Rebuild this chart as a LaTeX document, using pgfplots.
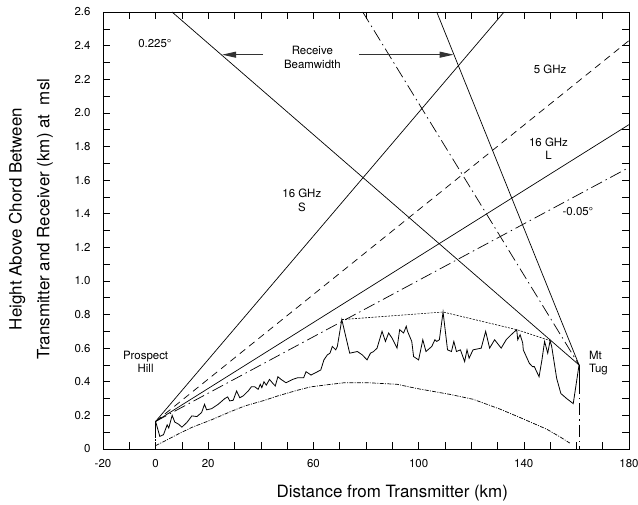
\documentclass[border=0pt]{standalone}
\usepackage{fontspec}
\setmainfont{TeX Gyre Heros}
\usepackage{pgfplots}
\pgfplotsset{compat=1.18}
\usetikzlibrary{arrows.meta}

\begin{document}
\begin{tikzpicture}
\begin{axis}[
  scale only axis, width=526bp, height=437bp,
  xmin=-20, xmax=180, ymin=0, ymax=2.6,
  xtick={-20,-10,0,10,20,30,40,50,60,70,80,90,100,110,120,130,140,150,160,170,180},
  xticklabels={-20,,0,,20,,,,60,,,,100,,,,140,,,,180},
  ytick={0,0.1,0.2,0.3,0.4,0.5,0.6,0.7,0.8,0.9,1.0,1.1,1.2,1.3,1.4,1.5,1.6,1.7,1.8,1.9,2.0,2.1,2.2,2.3,2.4,2.5,2.6},
  yticklabels={0,,0.2,,0.4,,0.6,,0.8,,1.0,,1.2,,1.4,,1.6,,1.8,,2.0,,2.2,,2.4,,2.6},
  tick align=inside, major tick length=7bp,
  xtick pos=both, ytick pos=both,
  xticklabel pos=bottom, yticklabel pos=left,
  tick style={black, line width=0.6bp},
  axis line style={line width=0.8bp},
  tick label style={font=\fontsize{11.5}{13}\selectfont},
  /pgf/number format/assume math mode=true,
  xticklabel style={yshift=-7bp},
  yticklabel style={xshift=-9bp},
  xlabel={Distance from Transmitter (km)},
  ylabel={Height Above Chord Between\\Transmitter and Receiver (km) at~~msl},
  every axis x label/.style={at={(axis description cs:0.55,-0.1007)},anchor=center,font=\fontsize{17}{21}\selectfont},
  every axis y label/.style={at={(axis description cs:-0.137,0.526)},anchor=center,rotate=90,align=center,font=\fontsize{17}{28}\selectfont},
]
% beams from Prospect Hill
\addplot[black, line width=0.7bp] coordinates {(0,0.164) (132.5,2.6)};
\addplot[black, line width=0.7bp, dash pattern=on 7bp off 5bp] coordinates {(0,0.164) (180,2.43)};
\addplot[black, line width=0.7bp] coordinates {(0,0.164) (180,1.93)};
\addplot[black, line width=0.7bp, dash pattern=on 12bp off 4bp on 1.5bp off 4bp] coordinates {(0,0.164) (180,1.675)};
% beams to Mt Tug
\addplot[black, line width=0.7bp] coordinates {(6.25,2.6) (161,0.5)};
\addplot[black, line width=0.7bp, dash pattern=on 12bp off 4bp on 1.5bp off 4bp] coordinates {(78.75,2.6) (161,0.5)};
\addplot[black, line width=0.7bp] coordinates {(106.9,2.6) (161,0.5)};
% terrain profile
\addplot[black, line width=0.8bp] coordinates {
(0,0.164) (1.6,0.075) (3.0,0.085) (4.4,0.144) (5.0,0.125) (6.3,0.20) (7.3,0.16) (8.7,0.148)
(10,0.13) (11.9,0.158) (13.8,0.197) (15.7,0.193) (17.5,0.217) (18.6,0.266) (19.4,0.233)
(21.3,0.24) (23.8,0.266) (26.3,0.30) (27.4,0.31) (28.2,0.286) (29.5,0.29) (30.8,0.345)
(32,0.305) (33.3,0.316) (35.2,0.345) (36.4,0.37) (37.7,0.37) (39,0.355) (39.8,0.385)
(40.4,0.365) (41.2,0.40) (42.1,0.38) (43.3,0.414) (44.6,0.39) (45.5,0.375) (46.5,0.43)
(47.7,0.414) (49.6,0.394) (52.1,0.414) (54,0.424) (56.3,0.424) (57.2,0.46) (59.1,0.44)
(62.8,0.47) (64,0.53) (65.3,0.56) (66.3,0.57) (67.2,0.61) (68.5,0.59) (69.1,0.61)
(70.8,0.77) (73.8,0.57) (76.7,0.58) (78.6,0.56) (80.4,0.53) (81.7,0.57) (82.9,0.58)
(84.2,0.60) (86.1,0.70) (87.4,0.64) (88.6,0.69) (89.9,0.66) (91.8,0.60) (92.8,0.71)
(94.3,0.69) (95.3,0.73) (95.8,0.70) (97.4,0.64) (98.1,0.55) (100,0.53) (101.6,0.65)
(102.8,0.58) (105,0.61) (106.2,0.65) (106.9,0.64) (107.9,0.65) (109.3,0.815) (111,0.59)
(112.5,0.58) (113.4,0.64) (114.4,0.58) (115.9,0.59) (117.5,0.52) (118.4,0.59) (119.2,0.54)
(120.7,0.59) (123.8,0.60) (125.5,0.70) (127,0.60) (128.9,0.65) (131.4,0.60) (133.3,0.65)
(135.2,0.68) (137.3,0.71) (137.7,0.65) (138.6,0.68) (139.6,0.63) (139.8,0.59) (142.1,0.51)
(143.3,0.49) (144,0.49) (145.8,0.43) (146.9,0.53) (147.9,0.64) (149.1,0.57) (150,0.645)
(150.6,0.61) (152.5,0.42) (154.1,0.33) (156.3,0.30) (158.8,0.27) (161,0.50)
};
\addplot[black, line width=0.8bp] coordinates {(0,0.164) (0,0.075)};
\addplot[black, line width=0.6bp, dash pattern=on 1.5bp off 1.5bp] coordinates {(0,0.075) (0,0)};
\addplot[black, line width=0.8bp] coordinates {(161,0.5) (161,0.40)};
\addplot[black, line width=0.7bp, dash pattern=on 12bp off 4bp on 1.5bp off 4bp] coordinates {(161,0.40) (161,0)};
% upper envelope
\addplot[black, line width=0.6bp, dash pattern=on 2bp off 1.3bp] coordinates {(70.8,0.77) (109.3,0.815) (137.3,0.71) (150,0.645)};
% lower curve
\addplot[black, line width=0.7bp, dash pattern=on 4bp off 1.3bp on 1bp off 1.3bp] coordinates {
(0,0.02) (3.8,0.05) (8.7,0.09) (14,0.13) (21.3,0.174) (28.9,0.225) (33.9,0.256) (41.5,0.29)
(46.5,0.316) (54,0.35) (59.1,0.37) (66.7,0.385) (71.6,0.394) (81,0.394) (91.8,0.385)
(99.3,0.36) (111.9,0.325) (120.7,0.296) (131,0.237) (138.6,0.187) (148.7,0.118) (154,0.07) (157.5,0.035)
};
% arrows
\addplot[black!80, line width=0.9bp, -{Triangle[length=14bp,width=6bp]}] coordinates {(40.9,2.346) (25.3,2.346)};
\addplot[black!80, line width=0.9bp, -{Triangle[length=14bp,width=6bp]}] coordinates {(77.5,2.346) (113.3,2.346)};
% annotations
\begin{scope}[every node/.style={font=\fontsize{11.5}{13.5}\selectfont, align=center}]
\node at (axis cs:-0.25,2.415) {0.225°};
\node at (axis cs:59.6,2.33) {Receive\\Beamwidth};
\node at (axis cs:55.6,1.48) {16 GHz\\S};
\node at (axis cs:150,2.26) {5 GHz};
\node at (axis cs:149.4,1.787) {16 GHz\\L};
\node at (axis cs:160.6,1.41) {-0.05°};
\node at (axis cs:-3.8,0.52) {Prospect\\Hill};
\node[anchor=west, align=left] at (axis cs:163.5,0.51) {Mt\\Tug};
\end{scope}
\end{axis}
\pgfresetboundingbox
\path ([shift={(-103bp,-56bp)}]current axis.south west) rectangle ([shift={(9bp,12bp)}]current axis.north east);
\end{tikzpicture}
\end{document}
